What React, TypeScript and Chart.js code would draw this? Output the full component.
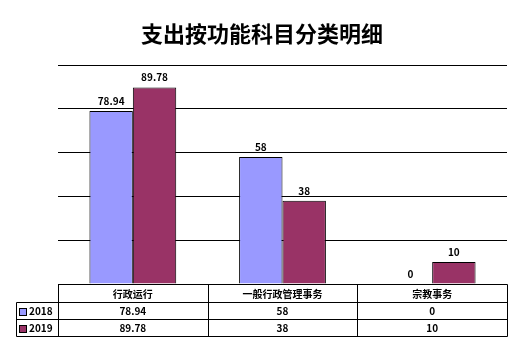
import React, { useEffect, useRef } from "react";
import { Chart, registerables } from "chart.js";

Chart.register(...registerables);

const categories = ["行政运行", "一般行政管理事务", "宗教事务"];
const seriesNames = ["2018", "2019"];
const values2018 = [78.94, 58, 0];
const values2019 = [89.78, 38, 10];
const colors = ["#9999FF", "#993366"];
const titleText = "支出按功能科目分类明细";

const FONT = "'Noto Sans CJK SC', 'DejaVu Sans', sans-serif";

const titlePlugin = {
  id: "customTitle",
  afterDraw(chart: any) {
    const ctx = chart.ctx;
    ctx.save();
    ctx.fillStyle = "#000";
    ctx.font = `bold 22px ${FONT}`;
    ctx.textAlign = "center";
    ctx.textBaseline = "middle";
    ctx.fillText(titleText, 262, 34);
    ctx.restore();
  },
};

const labelPlugin = {
  id: "barLabels",
  afterDatasetsDraw(chart: any) {
    const ctx = chart.ctx;
    ctx.save();
    ctx.fillStyle = "#000";
    ctx.font = `bold 10px ${FONT}`;
    ctx.textAlign = "center";
    ctx.textBaseline = "bottom";
    chart.data.datasets.forEach((ds: any, di: number) => {
      const meta = chart.getDatasetMeta(di);
      meta.data.forEach((bar: any, i: number) => {
        ctx.fillText(String(ds.data[i]), bar.x, bar.y - 5);
      });
    });
    ctx.restore();
  },
};

const tablePlugin = {
  id: "dataTable",
  afterDraw(chart: any) {
    const ctx = chart.ctx;
    const area = chart.chartArea;
    const x = chart.scales.x;
    const left = area.left;
    const right = area.right;
    const top = area.bottom;
    const rowH = [18, 17, 17];
    const y1 = top + rowH[0];
    const y2 = y1 + rowH[1];
    const y3 = y2 + rowH[2];
    const legendLeft = 16;
    const n = categories.length;
    const colW = (right - left) / n;
    ctx.save();
    ctx.strokeStyle = "#000";
    ctx.lineWidth = 1;
    const line = (ax: number, ay: number, bx: number, by: number) => {
      ctx.beginPath();
      ctx.moveTo(Math.round(ax) + 0.5, Math.round(ay) + 0.5);
      ctx.lineTo(Math.round(bx) + 0.5, Math.round(by) + 0.5);
      ctx.stroke();
    };
    line(left, top, right, top);
    line(legendLeft, y1, right, y1);
    line(legendLeft, y2, right, y2);
    line(legendLeft, y3, right, y3);
    line(legendLeft, y1, legendLeft, y3);
    for (let i = 0; i <= n; i++) {
      const cx = left + colW * i;
      line(cx, top, cx, y3);
    }
    ctx.fillStyle = "#000";
    ctx.textAlign = "center";
    ctx.textBaseline = "middle";
    ctx.font = `bold 10px ${FONT}`;
    categories.forEach((c, i) => {
      const cx = x.getPixelForValue(i);
      ctx.fillText(c, cx, (top + y1) / 2 + 1);
    });
    const rows = [values2018, values2019];
    const rowMid = [(y1 + y2) / 2 + 1, (y2 + y3) / 2 + 1];
    rows.forEach((vals, r) => {
      vals.forEach((v, i) => {
        const cx = x.getPixelForValue(i);
        ctx.fillText(String(v), cx, rowMid[r]);
      });
      const sy = Math.round(rowMid[r] - 3);
      ctx.fillStyle = colors[r];
      ctx.fillRect(20, sy, 6, 6);
      ctx.strokeStyle = "#000";
      ctx.strokeRect(19.5, sy - 0.5, 7, 7);
      ctx.fillStyle = "#000";
      ctx.textAlign = "left";
      ctx.fillText(seriesNames[r], 29, rowMid[r]);
      ctx.textAlign = "center";
    });
    ctx.restore();
  },
};

export default function App() {
  const ref = useRef<HTMLCanvasElement>(null);
  useEffect(() => {
    document.body.style.margin = "0";
    const chart = new Chart(ref.current!, {
      type: "bar",
      data: {
        labels: categories,
        datasets: [
          {
            label: seriesNames[0],
            data: values2018,
            backgroundColor: colors[0],
            borderColor: "#000",
            borderWidth: 1,
            categoryPercentage: 0.58,
            barPercentage: 1,
          },
          {
            label: seriesNames[1],
            data: values2019,
            backgroundColor: colors[1],
            borderColor: "#000",
            borderWidth: 1,
            categoryPercentage: 0.58,
            barPercentage: 1,
          },
        ],
      },
      options: {
        responsive: false,
        animation: false,
        layout: { padding: { left: 58, right: 17, top: 65, bottom: 69 } },
        plugins: {
          legend: { display: false },
          tooltip: { enabled: false },
          title: { display: false },
        },
        scales: {
          x: { display: false },
          y: {
            min: 0,
            max: 100,
            ticks: { display: false, stepSize: 20 },
            border: { display: false },
            grid: { color: "#000", lineWidth: 1, drawTicks: false },
          },
        },
      },
      plugins: [labelPlugin, tablePlugin, titlePlugin],
    });
    return () => chart.destroy();
  }, []);
  return (
    <div style={{ width: 524, height: 353 }}>
      <canvas ref={ref} width={524} height={353} style={{ display: "block" }} />
    </div>
  );
}
